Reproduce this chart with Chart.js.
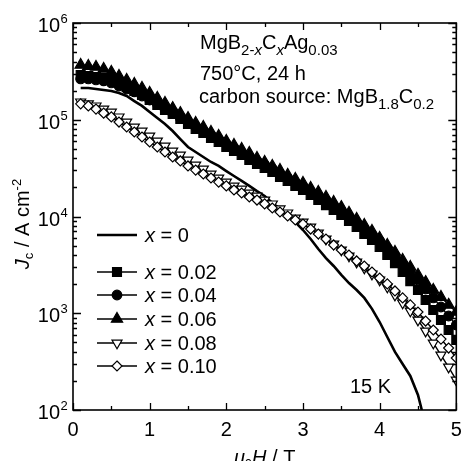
<!DOCTYPE html>
<html>
<head>
<meta charset="utf-8">
<script src="https://cdn.jsdelivr.net/npm/chart.js@4.4.1/dist/chart.umd.min.js"></script>
<style>
  html, body { margin: 0; padding: 0; background: #fff; }
  #wrap { width: 464px; height: 461px; position: relative; }
</style>
</head>
<body>
<div id="wrap"><canvas id="jcChart"></canvas></div>
<script>
// field values (T)
const fieldH = [0.1, 0.2, 0.3, 0.4, 0.5, 0.6, 0.7, 0.8, 0.9, 1.0,
  1.1, 1.2, 1.3, 1.4, 1.5, 1.6, 1.7, 1.8, 1.9, 2.0,
  2.1, 2.2, 2.3, 2.4, 2.5, 2.6, 2.7, 2.8, 2.9, 3.0,
  3.1, 3.2, 3.3, 3.4, 3.5, 3.6, 3.7, 3.8, 3.9, 4.0,
  4.1, 4.2, 4.3, 4.4, 4.5, 4.6, 4.7, 4.8, 4.9, 5.0];
const fieldH0 = [0.1, 0.2, 0.3, 0.4, 0.5, 0.6, 0.7, 0.8, 0.9, 1.0,
  1.1, 1.2, 1.3, 1.4, 1.5, 1.6, 1.7, 1.8, 1.9, 2.0,
  2.1, 2.2, 2.3, 2.4, 2.5, 2.6, 2.7, 2.8, 2.9, 3.0,
  3.1, 3.2, 3.3, 3.4, 3.5, 3.6, 3.7, 3.8, 3.9, 4.0,
  4.1, 4.2, 4.3, 4.4, 4.5, 4.55];

// Jc (A cm^-2) for each carbon content x
const jcX000 = [2.13e5, 2.13e5, 2.08e5, 2.03e5, 1.98e5, 1.89e5, 1.76e5, 1.56e5, 1.39e5, 1.20e5,
  1.04e5, 9.04e4, 7.65e4, 6.32e4, 5.23e4, 4.64e4, 4.12e4, 3.66e4, 3.33e4, 2.95e4,
  2.62e4, 2.33e4, 2.07e4, 1.83e4, 1.63e4, 1.38e4, 1.20e4, 1.04e4, 8.77e3, 7.25e3,
  5.85e3, 4.61e3, 3.72e3, 3.08e3, 2.49e3, 2.05e3, 1.74e3, 1.44e3, 1.11e3, 812,
  568, 398, 299, 225, 143, 100];
const jcX002 = [2.90e5, 2.83e5, 2.77e5, 2.70e5, 2.58e5, 2.40e5, 2.18e5, 1.98e5, 1.80e5, 1.60e5,
  1.42e5, 1.26e5, 1.15e5, 1.02e5, 9.04e4, 8.02e4, 7.29e4, 6.48e4, 5.89e4, 5.23e4,
  4.75e4, 4.32e4, 3.84e4, 3.49e4, 3.17e4, 2.88e4, 2.56e4, 2.33e4, 2.07e4, 1.88e4,
  1.67e4, 1.48e4, 1.31e4, 1.17e4, 1.04e4, 8.98e3, 7.79e3, 6.59e3, 5.72e3, 4.84e3,
  4.00e3, 3.30e3, 2.67e3, 2.15e3, 1.74e3, 1.37e3, 1.08e3, 851, 671, 529];
const jcX004 = [2.64e5, 2.64e5, 2.58e5, 2.52e5, 2.40e5, 2.23e5, 2.08e5, 1.94e5, 1.76e5, 1.60e5,
  1.46e5, 1.29e5, 1.17e5, 1.04e5, 9.47e4, 8.41e4, 7.65e4, 6.95e4, 6.17e4, 5.61e4,
  5.11e4, 4.53e4, 4.12e4, 3.75e4, 3.41e4, 3.10e4, 2.75e4, 2.50e4, 2.22e4, 2.02e4,
  1.79e4, 1.63e4, 1.45e4, 1.28e4, 1.14e4, 9.88e3, 8.57e3, 7.42e3, 6.44e3, 5.58e3,
  4.72e3, 3.91e3, 3.23e3, 2.67e3, 2.21e3, 1.78e3, 1.44e3, 1.16e3, 937, 756];
const jcX006 = [3.68e5, 3.59e5, 3.51e5, 3.35e5, 3.12e5, 2.83e5, 2.58e5, 2.34e5, 2.13e5, 1.89e5,
  1.68e5, 1.49e5, 1.32e5, 1.17e5, 1.04e5, 9.26e4, 8.41e4, 7.47e4, 6.79e4, 6.03e4,
  5.48e4, 4.98e4, 4.53e4, 4.02e4, 3.66e4, 3.33e4, 3.02e4, 2.69e4, 2.44e4, 2.22e4,
  1.97e4, 1.79e4, 1.59e4, 1.41e4, 1.25e4, 1.09e4, 9.42e3, 8.17e3, 7.08e3, 6.00e3,
  5.08e3, 4.30e3, 3.55e3, 3.01e3, 2.49e3, 2.10e3, 1.74e3, 1.47e3, 1.22e3, 1.03e3];
const jcX008 = [1.53e5, 1.46e5, 1.39e5, 1.29e5, 1.20e5, 1.07e5, 9.47e4, 8.41e4, 7.65e4, 6.79e4,
  6.03e4, 5.36e4, 4.75e4, 4.32e4, 3.84e4, 3.41e4, 3.10e4, 2.75e4, 2.50e4, 2.27e4,
  2.07e4, 1.92e4, 1.75e4, 1.63e4, 1.48e4, 1.35e4, 1.20e4, 1.09e4, 9.65e3, 8.77e3,
  7.79e3, 6.75e3, 5.85e3, 5.20e3, 4.51e3, 3.91e3, 3.38e3, 2.94e3, 2.54e3, 2.21e3,
  1.87e3, 1.54e3, 1.28e3, 1.055e3, 851, 655, 493, 370, 278, 204];
const jcX010 = [1.46e5, 1.39e5, 1.29e5, 1.17e5, 1.07e5, 9.47e4, 8.41e4, 7.47e4, 6.63e4, 5.89e4,
  5.23e4, 4.64e4, 4.12e4, 3.75e4, 3.33e4, 3.02e4, 2.75e4, 2.50e4, 2.27e4, 2.07e4,
  1.88e4, 1.75e4, 1.59e4, 1.48e4, 1.35e4, 1.224e4, 1.113e4, 1.012e4, 9.20e3, 8.36e3,
  7.42e3, 6.59e3, 5.85e3, 5.08e3, 4.51e3, 4.00e3, 3.47e3, 3.08e3, 2.67e3, 2.31e3,
  2.01e3, 1.70e3, 1.44e3, 1.22e3, 1.03e3, 831, 671, 541, 437, 345];

const seriesLabels = ['0', '0.02', '0.04', '0.06', '0.08', '0.10'];
const xTickValues = [0, 1, 2, 3, 4, 5];
const yDecades = [2, 3, 4, 5, 6];

const FONT = '"Liberation Sans", Arial, Helvetica, sans-serif';

function toPoints(xs, ys) {
  return xs.map((x, i) => ({ x: x, y: ys[i] }));
}

// marker look per series (index matches seriesLabels)
const markers = [
  { style: false, radius: 0, rot: 0, fill: '#000' },
  { style: 'rect', radius: 6.3, rot: 0, fill: '#000' },
  { style: 'circle', radius: 4.8, rot: 0, fill: '#000' },
  { style: 'triangle', radius: 6.5, rot: 0, fill: '#000' },
  { style: 'triangle', radius: 5.8, rot: 180, fill: '#fff' },
  { style: 'rectRot', radius: 5, rot: 0, fill: '#fff' }
];

function drawMarker(ctx, m, x, y) {
  const r = m.radius;
  ctx.beginPath();
  if (m.style === 'rect') {
    const s = Math.SQRT1_2 * r;
    ctx.rect(x - s, y - s, 2 * s, 2 * s);
  } else if (m.style === 'circle') {
    ctx.arc(x, y, r, 0, Math.PI * 2);
  } else if (m.style === 'triangle') {
    let a = m.rot * Math.PI / 180;
    ctx.moveTo(x + Math.sin(a) * r, y - Math.cos(a) * r);
    a += 2 * Math.PI / 3;
    ctx.lineTo(x + Math.sin(a) * r, y - Math.cos(a) * r);
    a += 2 * Math.PI / 3;
    ctx.lineTo(x + Math.sin(a) * r, y - Math.cos(a) * r);
    ctx.closePath();
  } else if (m.style === 'rectRot') {
    ctx.moveTo(x, y - r);
    ctx.lineTo(x + r, y);
    ctx.lineTo(x, y + r);
    ctx.lineTo(x - r, y);
    ctx.closePath();
  }
  ctx.fillStyle = m.fill;
  ctx.fill();
  ctx.stroke();
}

// text pieces: [text, size, italic, dy]
function richWidth(ctx, parts) {
  let w = 0;
  parts.forEach(p => {
    ctx.font = (p[2] ? 'italic ' : '') + p[1] + 'px ' + FONT;
    w += ctx.measureText(p[0]).width;
  });
  return w;
}
function drawRich(ctx, parts, x, y) {
  let cx = x;
  ctx.textAlign = 'left';
  ctx.textBaseline = 'alphabetic';
  parts.forEach(p => {
    ctx.font = (p[2] ? 'italic ' : '') + p[1] + 'px ' + FONT;
    ctx.fillText(p[0], cx, y + (p[3] || 0));
    cx += ctx.measureText(p[0]).width;
  });
  return cx;
}

const framePlugin = {
  id: 'framePlugin',
  afterDraw(chart) {
    const ctx = chart.ctx;
    const xs = chart.scales.x;
    const ys = chart.scales.y;
    const a = chart.chartArea;
    ctx.save();
    // white strip right of the frame so edge markers look clipped
    ctx.fillStyle = '#fff';
    ctx.fillRect(a.right + 1, 0, chart.width - a.right, chart.height);
    ctx.strokeStyle = '#000';
    ctx.fillStyle = '#000';
    ctx.lineWidth = 1.6;
    ctx.strokeRect(a.left, a.top, a.right - a.left, a.bottom - a.top);

    // x ticks (inward, bottom and top)
    ctx.lineWidth = 1.3;
    for (let v = 0; v <= 5.001; v += 0.5) {
      const px = Math.round(xs.getPixelForValue(v)) + 0.5;
      const len = Math.abs(v - Math.round(v)) < 1e-6 ? 7 : 4;
      ctx.beginPath();
      ctx.moveTo(px, a.bottom); ctx.lineTo(px, a.bottom - len);
      ctx.moveTo(px, a.top); ctx.lineTo(px, a.top + len);
      ctx.stroke();
    }
    // y ticks (log, inward, left and right)
    for (let d = 2; d <= 6; d++) {
      for (let k = 1; k <= 9; k++) {
        if (d === 6 && k > 1) break;
        const v = k * Math.pow(10, d);
        const py = Math.round(ys.getPixelForValue(v)) + 0.5;
        const len = k === 1 ? 8 : 4;
        ctx.beginPath();
        ctx.moveTo(a.left, py); ctx.lineTo(a.left + len, py);
        ctx.moveTo(a.right, py); ctx.lineTo(a.right - len, py);
        ctx.stroke();
      }
    }

    // x tick labels
    ctx.font = '20px ' + FONT;
    ctx.textAlign = 'center';
    ctx.textBaseline = 'alphabetic';
    xTickValues.forEach(v => {
      ctx.fillText(String(v), xs.getPixelForValue(v), 436);
    });
    // y tick labels 10^n
    yDecades.forEach(n => {
      const py = ys.getPixelForValue(Math.pow(10, n));
      ctx.font = '20px ' + FONT;
      ctx.textAlign = 'right';
      ctx.fillText('10', 60, py + 9);
      ctx.font = '13px ' + FONT;
      ctx.textAlign = 'left';
      ctx.fillText(String(n), 60.5, py + 0);
    });

    // axis titles
    const xt = [['\u03bc', 20, true], ['0', 13, false, 4], ['H', 20, true], [' / T', 20, false]];
    const xw = richWidth(ctx, xt);
    drawRich(ctx, xt, (a.left + a.right) / 2 - xw / 2, 464);

    const yt = [['J', 20, true], ['c', 13, false, 4], [' / A cm', 20, false], ['-2', 13, false, -8]];
    const yw = richWidth(ctx, yt);
    ctx.save();
    ctx.translate(29, 224);
    ctx.rotate(-Math.PI / 2);
    drawRich(ctx, yt, -yw / 2, 0);
    ctx.restore();

    // annotation
    drawRich(ctx, [['MgB', 20, false], ['2-', 15, false, 6], ['x', 15, true, 6], ['C', 20, false],
      ['x', 15, true, 6], ['Ag', 20, false], ['0.03', 15, false, 6]], 200, 49);
    drawRich(ctx, [['750\u00b0C, 24 h', 20, false]], 200, 80);
    drawRich(ctx, [['carbon source: MgB', 20, false], ['1.8', 15, false, 6], ['C', 20, false],
      ['0.2', 15, false, 6]], 199, 103);
    drawRich(ctx, [['15 K', 20, false]], 350, 393);

    // legend
    const rowsY = [235, 272, 295, 319, 343, 366];
    seriesLabels.forEach((lab, i) => {
      const y = rowsY[i];
      ctx.strokeStyle = '#000';
      ctx.lineWidth = i === 0 ? 2.5 : 1.5;
      ctx.beginPath();
      ctx.moveTo(97, y); ctx.lineTo(137, y);
      ctx.stroke();
      if (markers[i].style) {
        ctx.lineWidth = 1.2;
        drawMarker(ctx, markers[i], 117, y);
      }
      ctx.fillStyle = '#000';
      drawRich(ctx, [['x', 20, true], [' = ' + lab, 20, false]], 145, y + 7);
    });
    ctx.restore();
  }
};

const seriesData = [
  toPoints(fieldH0, jcX000),
  toPoints(fieldH, jcX002),
  toPoints(fieldH, jcX004),
  toPoints(fieldH, jcX006),
  toPoints(fieldH, jcX008),
  toPoints(fieldH, jcX010)
];

const datasets = seriesData.map((pts, i) => ({
  label: 'x = ' + seriesLabels[i],
  data: pts,
  borderColor: '#000',
  borderWidth: i === 0 ? 2.6 : 1.4,
  pointStyle: markers[i].style,
  pointRadius: markers[i].radius,
  pointRotation: markers[i].rot,
  pointBackgroundColor: markers[i].fill,
  pointBorderColor: '#000',
  pointBorderWidth: 1.2,
  tension: 0,
  fill: false,
  order: [5, 3, 2, 1, 4, 0][i]
}));

new Chart(document.getElementById('jcChart'), {
  type: 'line',
  data: { datasets: datasets },
  options: {
    responsive: true,
    maintainAspectRatio: false,
    animation: false,
    devicePixelRatio: 1,
    layout: { padding: { top: 23, right: 2, left: 0, bottom: 0 } },
    plugins: { legend: { display: false }, tooltip: { enabled: false } },
    scales: {
      x: {
        type: 'linear', min: 0, max: 5,
        grid: { display: false }, border: { display: false },
        ticks: { display: false },
        afterFit: s => { s.height = 51; }
      },
      y: {
        type: 'logarithmic', min: 100, max: 1e6,
        grid: { display: false }, border: { display: false },
        ticks: { display: false },
        afterFit: s => { s.width = 73; }
      }
    }
  },
  plugins: [framePlugin]
});
</script>
</body>
</html>
